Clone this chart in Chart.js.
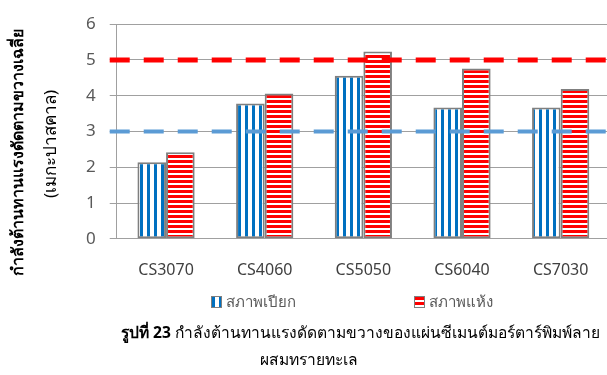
<!DOCTYPE html>
<html>
<head>
<meta charset="utf-8">
<script src="https://cdn.jsdelivr.net/npm/chart.js@4"></script>
<style>
  html, body { margin: 0; padding: 0; background: #fff; overflow: hidden; }
  body { width: 607px; height: 375px; position: relative; font-family: Tahoma, "Noto Sans", "DejaVu Sans", sans-serif; }
  #wrap { position: absolute; left: 0; top: 0; width: 610px; height: 294px; }
  .legend { position: absolute; top: 290px; left: 0; width: 607px; height: 20px; font-size: 15px; color: #595959; }
  .legend span { position: absolute; top: 0; display: flex; align-items: center; }
  .legend canvas { margin-right: 4px; border: 1px solid #7f7f7f; }
  .caption { position: absolute; left: 0; width: 607px; font-size: 15.6px; color: #000; }
</style>
</head>
<body>
<div id="wrap"><canvas id="chart"></canvas></div>
<div class="legend">
  <span style="left:211px"><canvas id="swWet" width="9" height="10"></canvas>สภาพเปียก</span>
  <span style="left:414px"><canvas id="swDry" width="9" height="10"></canvas>สภาพแห้ง</span>
</div>
<div class="caption" style="top:320px; text-align:right; padding-right:7px; box-sizing:border-box"><b>รูปที่ 23</b> กำลังต้านทานแรงดัดตามขวางของแผ่นซีเมนต์มอร์ตาร์พิมพ์ลาย</div>
<div class="caption" style="top:347px; text-align:center; padding-left:10px; box-sizing:border-box">ผสมทรายทะเล</div>

<script>
const categories = ["CS3070", "CS4060", "CS5050", "CS6040", "CS7030"];
const wetValues = [2.14, 3.78, 4.56, 3.67, 3.67];
const dryValues = [2.42, 4.06, 5.24, 4.76, 4.19];
const seriesNames = ["สภาพเปียก", "สภาพแห้ง"];
const yTicks = [0, 1, 2, 3, 4, 5, 6];
const refLines = [
  { value: 3, color: "#5B9BD5", width: 4 },
  { value: 5, color: "#FF0000", width: 5 }
];

// striped fills: vertical blue for wet, horizontal red for dry
function stripes(vertical, color) {
  const c = document.createElement("canvas");
  const ctx = c.getContext("2d");
  if (vertical) {
    c.width = 7; c.height = 1;
    ctx.fillStyle = "#fff"; ctx.fillRect(0, 0, 7, 1);
    ctx.fillStyle = color; ctx.fillRect(0, 0, 3, 1);
  } else {
    c.width = 1; c.height = 5;
    ctx.fillStyle = "#fff"; ctx.fillRect(0, 0, 1, 5);
    ctx.fillStyle = color; ctx.fillRect(0, 0, 1, 3);
  }
  return ctx.createPattern(c, "repeat");
}

const ctx = document.getElementById("chart").getContext("2d");
const wetFill = stripes(true, "#0070C0");
const dryFill = stripes(false, "#FF0000");

// legend swatches
function swatch(id, vertical, color) {
  const s = document.getElementById(id).getContext("2d");
  s.fillStyle = stripes(vertical, color);
  s.fillRect(0, 0, 9, 10);
}
swatch("swWet", true, "#0070C0");
swatch("swDry", false, "#FF0000");

const yTitle = {
  id: "yTitle",
  afterDraw(chart) {
    const c = chart.ctx;
    c.save();
    c.fillStyle = "#000";
    c.textAlign = "center";
    c.textBaseline = "middle";
    c.translate(18, 152);
    c.rotate(-Math.PI / 2);
    c.font = "bold 16px Tahoma, 'Noto Sans', 'DejaVu Sans', sans-serif";
    c.fillText("กำลังต้านทานแรงดัดตามขวางเฉลี่ย", 0, 0);
    c.font = "17px Tahoma, 'Noto Sans', 'DejaVu Sans', sans-serif";
    c.fillText("(เมกะปาสคาล)", 8, 33);
    c.restore();
  }
};

const dashedRefs = {
  id: "dashedRefs",
  afterDatasetsDraw(chart) {
    const c = chart.ctx;
    const a = chart.chartArea;
    const y = chart.scales.y;
    c.save();
    refLines.forEach(r => {
      const py = y.getPixelForValue(r.value);
      c.strokeStyle = r.color;
      c.lineWidth = r.width;
      c.setLineDash([20, 14]);
      c.beginPath();
      c.moveTo(a.left - 7, py);
      c.lineTo(a.right, py);
      c.stroke();
    });
    c.restore();
  }
};

new Chart(ctx, {
  type: "bar",
  data: {
    labels: categories,
    datasets: [
      {
        label: seriesNames[0],
        data: wetValues,
        backgroundColor: wetFill,
        borderColor: "#7F7F7F",
        borderWidth: 2,
        borderSkipped: false,
        categoryPercentage: 0.58,
        barPercentage: 1
      },
      {
        label: seriesNames[1],
        data: dryValues,
        backgroundColor: dryFill,
        borderColor: "#7F7F7F",
        borderWidth: 2,
        borderSkipped: false,
        categoryPercentage: 0.58,
        barPercentage: 1
      }
    ]
  },
  options: {
    responsive: true,
    maintainAspectRatio: false,
    animation: false,
    layout: { padding: { left: 72, top: 10, right: 0, bottom: 0 } },
    plugins: {
      legend: { display: false },
      tooltip: { enabled: false }
    },
    scales: {
      x: {
        grid: { display: false },
        border: { color: "#A0A0A0", width: 1 },
        ticks: { color: "#404040", font: { size: 16, family: "Tahoma, 'Noto Sans', 'DejaVu Sans', sans-serif" }, padding: 14 }
      },
      y: {
        min: 0,
        max: 6,
        afterBuildTicks(scale) { scale.ticks = yTicks.map(v => ({ value: v })); },
        grid: { color: "#A0A0A0", lineWidth: 1, tickLength: 7 },
        border: { color: "#A0A0A0", width: 1 },
        ticks: { color: "#595959", font: { size: 17, family: "Tahoma, 'Noto Sans', 'DejaVu Sans', sans-serif" }, padding: 14 }
      }
    }
  },
  plugins: [dashedRefs, yTitle]
});
</script>
</body>
</html>
